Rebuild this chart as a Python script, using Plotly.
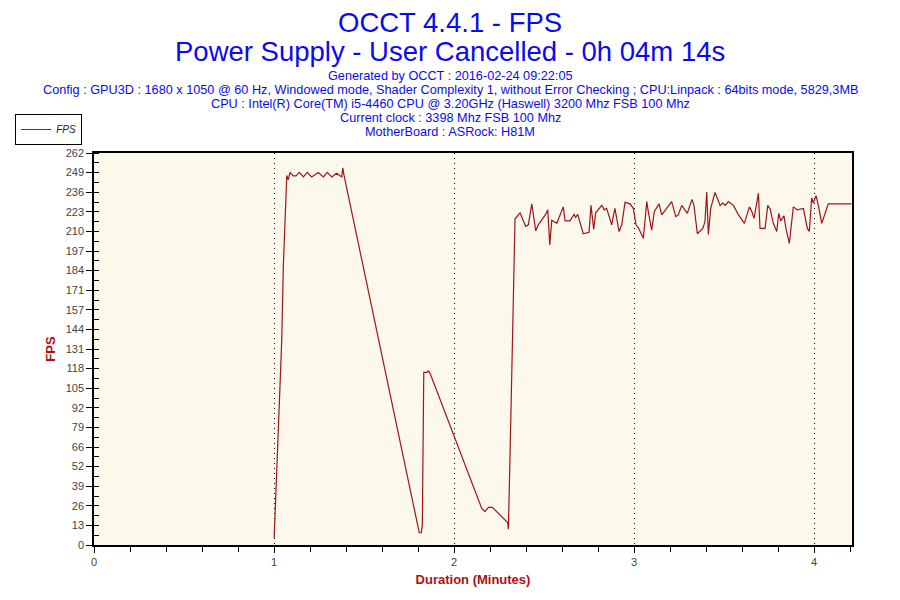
"""OCCT FPS log chart."""

import plotly.graph_objects as go

# duration in minutes, FPS
minutes = [
    1.001, 1.015, 1.024, 1.033, 1.043, 1.052, 1.067, 1.071, 1.079, 1.089,
    1.107, 1.122, 1.141, 1.163, 1.185, 1.209, 1.246, 1.274, 1.296, 1.321,
    1.348, 1.376, 1.382, 1.389, 1.807, 1.818, 1.824, 1.828, 1.832, 1.848,
    1.857, 1.867, 2.002, 2.154, 2.172, 2.191, 2.213, 2.298, 2.302, 2.306,
    2.311, 2.317, 2.324, 2.333, 2.339, 2.367, 2.398, 2.413, 2.432, 2.454,
    2.468, 2.509, 2.521, 2.532, 2.543, 2.571, 2.607, 2.617, 2.644, 2.667,
    2.676, 2.687, 2.718, 2.750, 2.761, 2.776, 2.787, 2.821, 2.835, 2.848,
    2.876, 2.894, 2.917, 2.932, 2.950, 2.978, 2.996, 3.011, 3.024, 3.052,
    3.071, 3.079, 3.098, 3.113, 3.139, 3.154, 3.209, 3.232, 3.246, 3.265,
    3.274, 3.296, 3.322, 3.333, 3.352, 3.382, 3.394, 3.404, 3.413, 3.426,
    3.450, 3.478, 3.493, 3.506, 3.524, 3.552, 3.579, 3.613, 3.641, 3.654,
    3.667, 3.691, 3.700, 3.728, 3.743, 3.756, 3.774, 3.793, 3.804, 3.815,
    3.833, 3.844, 3.863, 3.885, 3.907, 3.941, 3.963, 3.974, 3.987, 3.996,
    4.011, 4.024, 4.043, 4.079, 4.209,
]
fps = [
    4.7, 48, 86, 115, 137, 187, 227, 247, 244, 249,
    246.7, 246.7, 249, 246, 249, 246, 249, 246, 249, 246,
    248.5, 246, 252, 247, 8.2, 8.2, 13.4, 87, 115.4, 115.4,
    116.3, 114.7, 72.4, 24.5, 22.3, 25.2, 25.2, 15, 10.5, 26.7,
    59, 92.4, 127, 190, 218, 222, 213, 214, 228, 210,
    214, 221, 224, 200.5, 217, 215, 226, 216.6, 216.6, 221,
    219, 221, 208, 209, 227, 211, 222, 227, 224, 225,
    214, 225, 209.5, 214, 229, 228, 225, 214, 212, 205,
    229.5, 223, 210.5, 223, 228, 220.6, 229.5, 219.5, 220.6, 227,
    225.5, 221.7, 231, 227, 208, 211.6, 216, 236, 207.6, 225,
    235.7, 227, 228.6, 227, 229.5, 227, 221, 215, 226, 223,
    218.3, 235, 211.6, 211.6, 227, 224.6, 215, 209.5, 221.7, 216.6,
    220, 211.6, 201.6, 226, 224, 225, 211.6, 209.5, 232, 228.6,
    233.5, 227, 215, 228, 228,
]

y_max = 262
y_ticks = [y_max * i / 20 for i in range(21)]
y_labels = ["0", "13", "26", "39", "52", "66", "79", "92", "105", "118", "131",
            "144", "157", "171", "184", "197", "210", "223", "236", "249", "262"]
x_ticks = [0, 1, 2, 3, 4]

title_lines = ["OCCT 4.4.1 - FPS", "Power Supply - User Cancelled - 0h 04m 14s"]
info_lines = [
    "Generated by OCCT : 2016-02-24 09:22:05",
    "Config : GPU3D : 1680 x 1050 @ 60 Hz, Windowed mode, Shader Complexity 1, "
    "without Error Checking ; CPU:Linpack : 64bits mode, 5829,3MB",
    "CPU : Intel(R) Core(TM) i5-4460 CPU @ 3.20GHz (Haswell) 3200 Mhz FSB 100 Mhz",
    "Current clock : 3398 Mhz FSB 100 Mhz",
    "MotherBoard : ASRock: H81M",
]

LINE = "#a01418"
BLUE = "#0a0af0"
FONT = "Liberation Sans"

fig = go.Figure()
fig.add_trace(
    go.Scatter(
        x=minutes,
        y=fps,
        mode="lines",
        name="<i>FPS</i>",
        line={"color": LINE, "width": 1.2},
    )
)


# plot area spans 94..852 px across and 153..545 px down in the reference
def py(px_y):
    return (545 - px_y) / 392


annotations = []
for text, y_px in zip(title_lines, [22, 51]):
    annotations.append(
        dict(text=text, x=0.4697, y=py(y_px), xref="paper", yref="paper",
             yanchor="middle", showarrow=False,
             font={"size": 27.5, "color": BLUE, "family": FONT})
    )
for i, text in enumerate(info_lines):
    annotations.append(
        dict(text=text, x=0.4697, y=py(76 + 14 * i), xref="paper", yref="paper",
             yanchor="middle", showarrow=False,
             font={"size": 12.7, "color": BLUE, "family": FONT})
    )

# the page body adds an 8 px offset, so the margins are shifted back by 8
fig.update_layout(
    width=900,
    height=600,
    margin={"l": 86, "r": 56, "t": 145, "b": 63, "autoexpand": False},
    paper_bgcolor="white",
    plot_bgcolor="#fdf8ec",
    font={"family": FONT, "size": 11, "color": "#333333"},
    annotations=annotations,
    showlegend=True,
    legend={
        "x": -0.104, "y": py(114), "xanchor": "left", "yanchor": "top",
        "bordercolor": "black", "borderwidth": 1, "bgcolor": "white",
        "font": {"size": 10, "color": "#222222"},
        "itemwidth": 30, "tracegroupgap": 0, "valign": "middle",
    },
    xaxis={
        "range": [0, 4.211],
        "tickvals": x_ticks,
        "ticks": "outside",
        "ticklen": 6,
        "tickcolor": "black",
        "showline": True,
        "linecolor": "black",
        "linewidth": 1.5,
        "mirror": True,
        "showgrid": True,
        "gridcolor": "black",
        "griddash": "1px,4px",
        "gridwidth": 1.2,
        "zeroline": False,
        "tickfont": {"size": 11, "color": "#444444"},
        "minor": {"dtick": 0.2, "ticks": "outside", "ticklen": 5,
                  "tickcolor": "black", "showgrid": False},
        "title": {"text": "<b>Duration (Minutes)</b>",
                  "font": {"size": 13, "color": "#b01010"}, "standoff": 8},
    },
    yaxis={
        "range": [0, y_max],
        "tickvals": y_ticks,
        "ticktext": y_labels,
        "ticks": "outside",
        "ticklen": 6,
        "tickcolor": "black",
        "showline": True,
        "linecolor": "black",
        "linewidth": 1.5,
        "mirror": True,
        "showgrid": False,
        "zeroline": False,
        "tickfont": {"size": 11, "color": "#444444"},
        "minor": {"tick0": 0, "dtick": y_max / 40, "ticks": "inside",
                  "ticklen": 5, "tickcolor": "black", "showgrid": False},
        "title": {"text": "<b>FPS</b>",
                  "font": {"size": 13, "color": "#b01010"}, "standoff": 7},
    },
)

fig.write_html("out.html")
